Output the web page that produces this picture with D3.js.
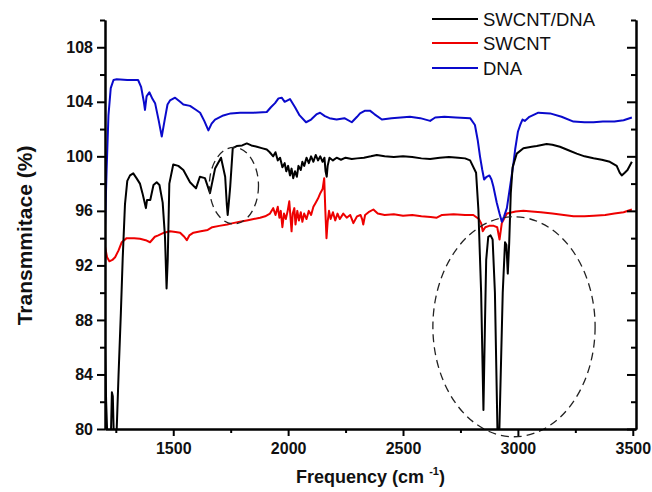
<!DOCTYPE html>
<html>
<head>
<meta charset="utf-8">
<script src="https://cdn.jsdelivr.net/npm/d3@7"></script>
<style>
  html, body { margin: 0; padding: 0; background: #fff; }
  svg { display: block; }
  text { font-family: "Liberation Sans", Arial, sans-serif; }
</style>
</head>
<body>
<svg id="chart" width="652" height="492"></svg>
<script>
// ---------- data (frequency cm^-1, transmittance %) ----------
const seriesNames = ["SWCNT/DNA", "SWCNT", "DNA"];
const seriesColors = ["#000000", "#ee0000", "#0a0acc"];

const swcntDna = [
  [1203, 86], [1208, 82], [1214, 79], [1228, 79], [1233, 82.7], [1237, 82.4], [1242, 79], [1252, 79],
  [1262, 84], [1272, 88.5], [1280, 92.5], [1290, 96.5], [1300, 98.2], [1312, 98.6], [1326, 98.75],
  [1340, 98.4], [1355, 98.0], [1366, 97.3], [1373, 96.8], [1381, 96.2], [1386, 96.8], [1400, 96.8],
  [1414, 97.9], [1428, 98.1], [1440, 97.9], [1454, 96.6], [1464, 94.1], [1471, 90.3], [1476, 92.4],
  [1483, 98.0], [1500, 99.4], [1522, 99.3], [1544, 99.0], [1573, 98.1], [1599, 97.65], [1616, 98.5],
  [1638, 98.4], [1660, 97.3], [1682, 99.1], [1708, 99.9], [1726, 98.5], [1733, 96.5], [1737, 95.7],
  [1742, 96.6], [1748, 97.8], [1759, 100.6], [1776, 100.75], [1800, 100.8], [1820, 100.95],
  [1840, 100.8], [1864, 100.7], [1885, 100.6], [1907, 100.5], [1920, 100.3], [1935, 100.0],
  [1945, 100.3], [1955, 99.7], [1965, 99.9], [1975, 99.2], [1985, 99.5], [1992, 98.9], [2000, 99.3],
  [2008, 98.6], [2015, 99.1], [2022, 98.4], [2030, 98.9], [2038, 98.5], [2045, 99.3], [2055, 99.0],
  [2062, 99.6], [2070, 99.3], [2080, 99.9], [2090, 99.5], [2100, 100.0], [2110, 99.6], [2120, 100.1],
  [2130, 99.7], [2140, 100.0], [2150, 99.6], [2158, 99.9], [2163, 98.9], [2168, 98.5], [2172, 99.3],
  [2180, 99.9], [2195, 99.7], [2211, 99.9], [2230, 99.75], [2250, 99.9], [2277, 99.8], [2300, 99.85],
  [2330, 99.9], [2360, 100.0], [2386, 100.1], [2420, 100.0], [2460, 99.95], [2500, 100.0],
  [2540, 99.95], [2580, 99.85], [2618, 99.8], [2660, 99.9], [2700, 99.95], [2740, 99.9],
  [2770, 99.85], [2792, 99.7], [2818, 98.8], [2828, 96.1], [2840, 90.0], [2850, 81.4], [2857, 88],
  [2862, 92.4], [2871, 94.1], [2881, 94.2], [2890, 93.9], [2900, 90.0], [2912, 79], [2918, 79],
  [2934, 90.0], [2944, 93.7], [2950, 93.5], [2956, 91.4], [2962, 93.6], [2969, 97.3], [2977, 99.2],
  [2995, 100.2], [3024, 100.6], [3060, 100.7], [3082, 100.76], [3125, 100.9], [3150, 100.85],
  [3183, 100.7], [3220, 100.45], [3256, 100.2], [3290, 100.0], [3329, 99.86], [3365, 99.75],
  [3400, 99.6], [3430, 99.3], [3443, 98.8], [3452, 98.6], [3465, 98.8], [3477, 99.0], [3496, 99.6]
];

const swcnt = [
  [1203, 93.4], [1212, 92.6], [1222, 92.3], [1235, 92.4], [1247, 92.6], [1262, 93.1], [1276, 93.7],
  [1297, 94.0], [1330, 94.0], [1355, 93.95], [1380, 93.85], [1399, 93.7], [1420, 94.1], [1435, 94.2],
  [1460, 94.4], [1486, 94.5], [1510, 94.45], [1530, 94.4], [1548, 94.1], [1559, 93.85], [1570, 94.2],
  [1588, 94.4], [1620, 94.5], [1650, 94.6], [1670, 94.8], [1700, 94.9], [1735, 95.0], [1760, 95.1],
  [1790, 95.2], [1820, 95.3], [1850, 95.4], [1878, 95.5], [1900, 95.6], [1921, 95.8], [1935, 96.2],
  [1945, 95.7], [1955, 96.3], [1962, 95.5], [1968, 96.0], [1975, 94.8], [1982, 95.8], [1990, 95.4],
  [1998, 96.0], [2005, 96.7], [2010, 95.6], [2015, 94.5], [2020, 95.8], [2027, 96.2], [2032, 95.0],
  [2040, 96.0], [2047, 95.3], [2055, 95.9], [2062, 95.2], [2070, 95.8], [2080, 95.4], [2090, 96.0],
  [2100, 95.7], [2110, 96.3], [2120, 96.6], [2130, 96.9], [2140, 97.3], [2150, 97.6], [2157, 98.4],
  [2162, 96.0], [2167, 94.0], [2172, 95.2], [2178, 96.0], [2185, 95.4], [2195, 95.9], [2205, 95.3],
  [2215, 95.8], [2225, 95.4], [2240, 95.8], [2255, 95.5], [2270, 95.7], [2284, 95.1], [2300, 95.6],
  [2315, 95.7], [2322, 95.4], [2327, 95.0], [2335, 95.7], [2350, 95.9], [2371, 96.1], [2390, 95.8],
  [2420, 95.7], [2460, 95.75], [2500, 95.65], [2540, 95.7], [2580, 95.6], [2620, 95.55], [2647, 95.5],
  [2670, 95.7], [2720, 95.75], [2770, 95.7], [2806, 95.7], [2830, 95.4], [2840, 95.1], [2847, 94.5],
  [2858, 94.8], [2875, 94.9], [2895, 94.9], [2910, 94.8], [2920, 93.9], [2930, 95.1], [2952, 95.8],
  [2990, 95.95], [3024, 96.0], [3060, 95.95], [3100, 95.9], [3150, 95.8], [3200, 95.7], [3242, 95.6],
  [3290, 95.6], [3330, 95.65], [3380, 95.7], [3420, 95.8], [3460, 95.9], [3496, 96.1]
];

const dna = [
  [1203, 94.8], [1210, 99], [1218, 103], [1228, 105.0], [1240, 105.6], [1254, 105.65], [1300, 105.6],
  [1347, 105.6], [1360, 105.1], [1372, 104.0], [1377, 103.4], [1384, 104.4], [1396, 104.7],
  [1410, 104.2], [1421, 103.9], [1437, 102.6], [1450, 101.45], [1462, 102.6], [1475, 103.8],
  [1486, 104.1], [1508, 104.3], [1530, 104.0], [1544, 103.8], [1573, 103.7], [1600, 103.4],
  [1617, 103.2], [1635, 102.6], [1653, 101.9], [1667, 102.4], [1682, 102.7], [1718, 103.0],
  [1750, 103.15], [1791, 103.2], [1850, 103.2], [1907, 103.25], [1925, 103.6], [1943, 103.9],
  [1958, 104.25], [1972, 104.3], [1985, 104.0], [2008, 104.2], [2030, 103.6], [2050, 103.0],
  [2078, 102.5], [2100, 102.7], [2125, 103.1], [2139, 103.2], [2160, 102.95], [2180, 102.8],
  [2211, 102.7], [2245, 102.8], [2277, 102.5], [2300, 102.9], [2313, 103.15], [2335, 103.35],
  [2356, 103.35], [2375, 103.1], [2408, 102.7], [2450, 102.8], [2490, 102.85], [2530, 102.9],
  [2575, 102.8], [2618, 102.6], [2640, 102.85], [2680, 102.9], [2730, 102.85], [2792, 102.8],
  [2813, 102.3], [2825, 101.2], [2835, 100.0], [2845, 99.0], [2853, 98.3], [2864, 98.5],
  [2876, 98.6], [2885, 98.3], [2893, 97.8], [2908, 96.6], [2920, 95.8], [2930, 95.2], [2940, 95.6],
  [2952, 96.2], [2966, 97.8], [2980, 99.4], [2988, 100.5], [3000, 101.8], [3010, 102.3],
  [3020, 102.7], [3030, 102.6], [3050, 102.9], [3089, 103.2], [3140, 103.15], [3190, 102.9],
  [3242, 102.55], [3290, 102.5], [3329, 102.5], [3370, 102.55], [3420, 102.55], [3460, 102.65],
  [3496, 102.85]
];

// dashed annotation ellipses: [centre frequency, centre %, half-width cm^-1, half-height %]
const annotations = [
  [1764, 97.85, 107, 2.81],
  [2983, 87.5, 353, 8.07]
];

const yMajorTicks = [80, 84, 88, 92, 96, 100, 104, 108];
const yMinorTicks = [82, 86, 90, 94, 98, 102, 106, 110];
const xMajorTicks = [1500, 2000, 2500, 3000, 3500];
const xMinorTicks = [1250, 1750, 2250, 2750, 3250];

// ---------- layout ----------
const svg = d3.select("#chart");
const mLeft = 105, mRight = 636, mTop = 20, mBottom = 429;

const x = d3.scaleLinear().domain([1203, 3514]).range([mLeft, mRight]);
const y = d3.scaleLinear().domain([80, 110]).range([mBottom, mTop]);

svg.append("defs").append("clipPath").attr("id", "plotclip")
  .append("rect").attr("x", mLeft).attr("y", mTop - 5).attr("width", mRight - mLeft).attr("height", mBottom - mTop + 5);

const line = d3.line().x(d => x(d[0])).y(d => y(d[1]));

const plot = svg.append("g").attr("clip-path", "url(#plotclip)");
const allSeries = [swcntDna, swcnt, dna];
[1, 2, 0].forEach(i => {
  plot.append("path")
    .datum(allSeries[i])
    .attr("fill", "none")
    .attr("stroke", seriesColors[i])
    .attr("stroke-width", 2)
    .attr("stroke-linejoin", "round")
    .attr("d", line);
});

annotations.forEach(a => {
  svg.append("ellipse")
    .attr("cx", x(a[0]))
    .attr("cy", y(a[1]))
    .attr("rx", x(a[0] + a[2]) - x(a[0]))
    .attr("ry", y(a[1] - a[3]) - y(a[1]))
    .attr("fill", "none")
    .attr("stroke", "#222")
    .attr("stroke-width", 1.3)
    .attr("stroke-dasharray", "8,5");
});

// ---------- axes ----------
function styleAxis(g) {
  g.selectAll(".domain").attr("stroke", "#000").attr("stroke-width", 2);
  g.selectAll(".tick line").attr("stroke", "#000").attr("stroke-width", 2);
  g.selectAll("text").attr("font-size", 16).attr("font-weight", "bold").attr("fill", "#111")
    .attr("font-family", "Liberation Sans, Arial, sans-serif");
}

svg.append("g").attr("transform", `translate(${mLeft},0)`)
  .call(d3.axisLeft(y).tickValues(yMajorTicks).tickSize(8).tickSizeOuter(0).tickPadding(4).tickFormat(d3.format("d")))
  .call(styleAxis);
svg.append("g").attr("transform", `translate(${mLeft},0)`)
  .call(d3.axisLeft(y).tickValues(yMinorTicks).tickSize(5).tickSizeOuter(0).tickFormat(""))
  .call(styleAxis);

svg.append("g").attr("transform", `translate(${mRight},0)`)
  .call(d3.axisLeft(y).tickValues(yMajorTicks).tickSize(9).tickSizeOuter(0).tickFormat(""))
  .call(styleAxis);
svg.append("g").attr("transform", `translate(${mRight},0)`)
  .call(d3.axisLeft(y).tickValues(yMinorTicks).tickSize(5).tickSizeOuter(0).tickFormat(""))
  .call(styleAxis);

svg.append("g").attr("transform", `translate(0,${mBottom})`)
  .call(d3.axisBottom(x).tickValues(xMajorTicks).tickSize(7).tickSizeOuter(0).tickPadding(7).tickFormat(d3.format("d")))
  .call(styleAxis);
svg.append("g").attr("transform", `translate(0,${mBottom})`)
  .call(d3.axisBottom(x).tickValues(xMinorTicks).tickSize(4).tickSizeOuter(0).tickFormat(""))
  .call(styleAxis);

// ---------- axis titles ----------
svg.append("text")
  .attr("transform", `translate(32,${(mTop + mBottom) / 2 + 11}) rotate(-90)`)
  .attr("text-anchor", "middle")
  .attr("font-size", 21).attr("font-weight", "bold").attr("fill", "#111")
  .text("Transmmitace (%)");

const xt = svg.append("text")
  .attr("x", (mLeft + mRight) / 2).attr("y", 483)
  .attr("text-anchor", "middle")
  .attr("font-size", 18).attr("font-weight", "bold").attr("fill", "#111");
xt.append("tspan").text("Frequency (cm ");
xt.append("tspan").attr("font-size", 11).attr("dy", -8).text("-1");
xt.append("tspan").attr("dy", 8).text(")");

// ---------- legend ----------
const legendRows = [19, 43, 68];
seriesNames.forEach((name, i) => {
  svg.append("line")
    .attr("x1", 432).attr("x2", 478)
    .attr("y1", legendRows[i]).attr("y2", legendRows[i])
    .attr("stroke", seriesColors[i]).attr("stroke-width", 2);
  svg.append("text")
    .attr("x", 483).attr("y", legendRows[i] + 6.5)
    .attr("font-size", 18.5).attr("fill", "#111")
    .text(name);
});
</script>
</body>
</html>
